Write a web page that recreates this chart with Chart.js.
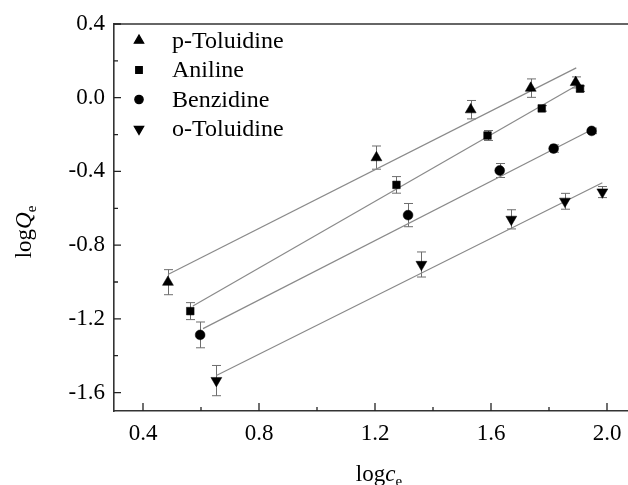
<!DOCTYPE html>
<html>
<head>
<meta charset="utf-8">
<script src="https://cdn.jsdelivr.net/npm/chart.js@4.4.1/dist/chart.umd.min.js"></script>
<style>
  html, body { margin: 0; padding: 0; background: #fff; overflow: hidden; }
  #wrap { width: 650px; height: 485px; position: relative; }
</style>
</head>
<body>
<div id="wrap"><canvas id="c"></canvas></div>
<script>
// ---- data ----
const seriesNames = ['p-Toluidine', 'Aniline', 'Benzidine', 'o-Toluidine'];

const pTolX = [0.486, 1.205, 1.530, 1.737, 1.892];
const pTolY = [-1.001, -0.325, -0.065, 0.052, 0.083];
const pTolErr = [0.068, 0.063, 0.050, 0.050, 0.030];
const pTolFitX = [0.486, 1.894];
const pTolFitY = [-0.959, 0.162];

const anilX = [0.563, 1.274, 1.588, 1.775, 1.907];
const anilY = [-1.158, -0.473, -0.205, -0.058, 0.049];
const anilErr = [0.046, 0.045, 0.027, 0.015, 0.015];
const anilFitX = [0.572, 1.894];
const anilFitY = [-1.130, 0.065];

const benzX = [0.597, 1.314, 1.630, 1.816, 1.947];
const benzY = [-1.287, -0.637, -0.395, -0.276, -0.180];
const benzErr = [0.070, 0.063, 0.038, 0.020, 0.015];
const benzFitX = [0.607, 1.947];
const benzFitY = [-1.253, -0.174];

const oTolX = [0.653, 1.360, 1.670, 1.855, 1.984];
const oTolY = [-1.535, -0.905, -0.660, -0.562, -0.512];
const oTolErr = [0.082, 0.068, 0.052, 0.043, 0.030];
const oTolFitX = [0.653, 1.984];
const oTolFitY = [-1.507, -0.461];

const xTicks = [0.4, 0.8, 1.2, 1.6, 2.0];
const xMinorTicks = [0.6, 1.0, 1.4, 1.8];
const yTicks = [-1.6, -1.2, -0.8, -0.4, 0.0, 0.4];
const yMinorTicks = [-1.4, -1.0, -0.6, -0.2, 0.2];
const xRange = [0.3, 2.1];
const yRange = [-1.7, 0.4];

// ---- build ----
const FONT = '"Liberation Serif", "Times New Roman", serif';
const pts = (xs, ys) => xs.map((x, i) => ({ x: x, y: ys[i] }));

const styles = [
  { pointStyle: 'triangle', rotation: 0, radius: 6.3 },
  { pointStyle: 'rect', rotation: 0, radius: 5.4 },
  { pointStyle: 'circle', rotation: 0, radius: 4.9 },
  { pointStyle: 'triangle', rotation: 180, radius: 6.3 }
];
const series = [
  { x: pTolX, y: pTolY, err: pTolErr, fx: pTolFitX, fy: pTolFitY },
  { x: anilX, y: anilY, err: anilErr, fx: anilFitX, fy: anilFitY },
  { x: benzX, y: benzY, err: benzErr, fx: benzFitX, fy: benzFitY },
  { x: oTolX, y: oTolY, err: oTolErr, fx: oTolFitX, fy: oTolFitY }
];

const datasets = [];
series.forEach((s, i) => {
  datasets.push({
    label: seriesNames[i] + ' fit',
    data: pts(s.fx, s.fy),
    showLine: true,
    borderColor: '#8a8a8a',
    borderWidth: 1.2,
    pointRadius: 0,
    pointHoverRadius: 0,
    order: 2
  });
});
series.forEach((s, i) => {
  datasets.push({
    label: seriesNames[i],
    data: pts(s.x, s.y),
    showLine: false,
    pointStyle: styles[i].pointStyle,
    rotation: styles[i].rotation,
    pointRadius: styles[i].radius,
    backgroundColor: '#000',
    borderColor: '#000',
    borderWidth: 0.5,
    errors: s.err,
    order: 1
  });
});

const decorPlugin = {
  id: 'decor',
  beforeDatasetsDraw(chart) {
    const ctx = chart.ctx;
    const xs = chart.scales.x, ys = chart.scales.y;
    ctx.save();
    ctx.strokeStyle = '#6e6e6e';
    ctx.lineWidth = 1;
    series.forEach(s => {
      s.x.forEach((xv, j) => {
        const e = s.err[j];
        const px = Math.round(xs.getPixelForValue(xv)) + 0.5;
        const pTop = ys.getPixelForValue(s.y[j] + e);
        const pBot = ys.getPixelForValue(s.y[j] - e);
        ctx.beginPath();
        ctx.moveTo(px, pTop); ctx.lineTo(px, pBot);
        ctx.moveTo(px - 4.5, pTop); ctx.lineTo(px + 4.5, pTop);
        ctx.moveTo(px - 4.5, pBot); ctx.lineTo(px + 4.5, pBot);
        ctx.stroke();
      });
    });
    ctx.restore();
  },
  afterDraw(chart) {
    const ctx = chart.ctx;
    const a = chart.chartArea;
    const xs = chart.scales.x, ys = chart.scales.y;
    ctx.save();
    // top frame
    ctx.strokeStyle = '#333';
    ctx.lineWidth = 1.6;
    ctx.beginPath();
    ctx.moveTo(a.left, a.top); ctx.lineTo(a.right, a.top);
    ctx.stroke();
    // ticks (inward)
    ctx.strokeStyle = '#222';
    ctx.lineWidth = 1.3;
    ctx.beginPath();
    xTicks.forEach(v => { const p = xs.getPixelForValue(v); ctx.moveTo(p, a.bottom); ctx.lineTo(p, a.bottom - 8); });
    xMinorTicks.forEach(v => { const p = xs.getPixelForValue(v); ctx.moveTo(p, a.bottom); ctx.lineTo(p, a.bottom - 4); });
    yTicks.forEach(v => { const p = ys.getPixelForValue(v); ctx.moveTo(a.left, p); ctx.lineTo(a.left + 7, p); });
    yMinorTicks.forEach(v => { const p = ys.getPixelForValue(v); ctx.moveTo(a.left, p); ctx.lineTo(a.left + 4, p); });
    ctx.stroke();

    // legend
    ctx.fillStyle = '#000';
    ctx.strokeStyle = '#000';
    ctx.font = '24px ' + FONT;
    ctx.textBaseline = 'middle';
    ctx.textAlign = 'left';
    seriesNames.forEach((name, i) => {
      const y = a.top + 16.5 + i * 29.5;
      Chart.helpers.drawPoint(ctx, {
        pointStyle: styles[i].pointStyle,
        rotation: styles[i].rotation,
        radius: styles[i].radius * 0.85,
        borderWidth: 0.5
      }, a.left + 25, y);
      ctx.fillText(name, a.left + 58, y + 1);
    });

    // axis titles with italic variable and subscript
    function drawTitle(x, y, parts) {
      let cx = x;
      parts.forEach(p => {
        ctx.font = p.f;
        ctx.fillText(p.t, cx, y + (p.dy || 0));
        cx += ctx.measureText(p.t).width;
      });
    }
    function titleWidth(parts) {
      let w = 0;
      parts.forEach(p => { ctx.font = p.f; w += ctx.measureText(p.t).width; });
      return w;
    }
    ctx.textBaseline = 'alphabetic';
    const xt = [
      { t: 'log', f: '23px ' + FONT },
      { t: 'c', f: 'italic 23px ' + FONT },
      { t: 'e', f: '15px ' + FONT, dy: 5 }
    ];
    const xw = titleWidth(xt);
    drawTitle((a.left + a.right) / 2 + 4 - xw / 2, 481, xt);

    const yt = [
      { t: 'log', f: '23px ' + FONT },
      { t: 'Q', f: 'italic 23px ' + FONT },
      { t: 'e', f: '15px ' + FONT, dy: 5 }
    ];
    const yw = titleWidth(yt);
    ctx.translate(31, 232);
    ctx.rotate(-Math.PI / 2);
    drawTitle(-yw / 2, 0, yt);
    ctx.restore();
  }
};

new Chart(document.getElementById('c'), {
  type: 'scatter',
  data: { datasets: datasets },
  options: {
    responsive: true,
    maintainAspectRatio: false,
    animation: false,
    events: [],
    layout: { padding: { top: 24, right: 14, left: 0, bottom: 0 } },
    plugins: { legend: { display: false }, tooltip: { enabled: false } },
    scales: {
      x: {
        type: 'linear',
        min: xRange[0], max: xRange[1],
        afterBuildTicks: s => { s.ticks = xTicks.map(v => ({ value: v })); },
        afterFit: s => { s.height = 74; },
        grid: { display: false, drawTicks: false },
        border: { display: true, color: '#333', width: 1.6 },
        ticks: {
          color: '#000',
          font: { family: FONT, size: 23 },
          padding: 9,
          maxRotation: 0,
          callback: v => Number(v).toFixed(1)
        }
      },
      y: {
        type: 'linear',
        min: yRange[0], max: yRange[1],
        afterBuildTicks: s => { s.ticks = yTicks.map(v => ({ value: v })); },
        afterFit: s => { s.width = 114; },
        grid: { display: false, drawTicks: false },
        border: { display: true, color: '#333', width: 1.6 },
        ticks: {
          color: '#000',
          font: { family: FONT, size: 23 },
          padding: 9,
          callback: v => Number(v).toFixed(1)
        }
      }
    }
  },
  plugins: [decorPlugin]
});
</script>
</body>
</html>
